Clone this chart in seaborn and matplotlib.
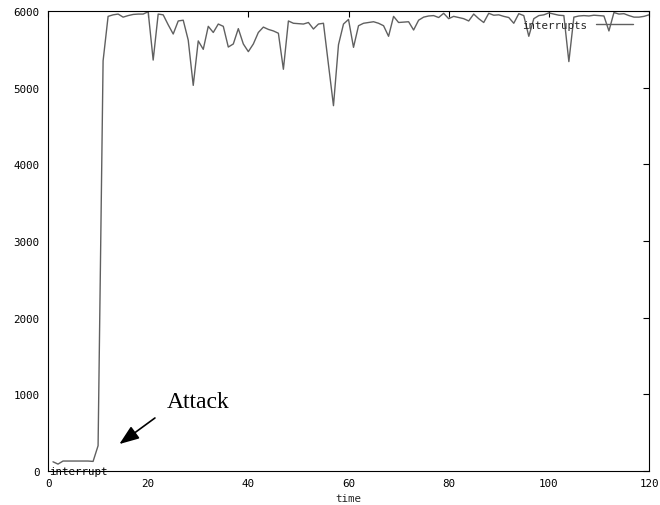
import matplotlib
matplotlib.use("Agg")

import matplotlib.pyplot as plt
import seaborn as sns
import numpy as np
import pandas as pd

# =========================================================
# DATA
# =========================================================

time = np.arange(1, 121)

interrupts = [
    120, 90, 130, 130, 130, 130, 130, 130, 125, 330,
    5350, 5930, 5950, 5960, 5920, 5940, 5955, 5960, 5960, 5990,
    5360, 5960, 5950, 5820, 5700, 5870, 5880, 5620, 5030, 5610,
    5500, 5800, 5720, 5830, 5800, 5530, 5570, 5770, 5570, 5470,
    5570, 5720, 5790, 5760, 5740, 5710, 5240, 5870, 5840, 5835,
    5830, 5850, 5765, 5830, 5840, 5300, 4765, 5560, 5830, 5890,
    5526, 5808, 5840, 5850, 5860, 5840, 5808, 5670, 5930, 5850,
    5855, 5860, 5752, 5880, 5920, 5935, 5940, 5915, 5970, 5900,
    5930, 5915, 5900, 5870, 5960, 5900, 5850, 5970, 5945, 5950,
    5930, 5915, 5840, 5965, 5940, 5670, 5900, 5940, 5950, 5975,
    5960, 5945, 5940, 5340, 5920, 5935, 5940, 5935, 5945, 5940,
    5935, 5740, 5980, 5960, 5965, 5940, 5920, 5920, 5930, 5950,
]

x_ticks = [0, 20, 40, 60, 80, 100, 120]
y_ticks = [0, 1000, 2000, 3000, 4000, 5000, 6000]

df = pd.DataFrame({"time": time, "interrupts": interrupts})

# =========================================================
# STYLE
# =========================================================

sns.set_style("white")
plt.rcParams["font.family"] = ["DejaVu Sans Mono"]

mono = 7.8

fig = plt.figure(figsize=(6.6, 5.06), dpi=100)
ax = fig.add_axes([48 / 660, 34 / 506, 601 / 660, 460 / 506])

sns.lineplot(
    data=df,
    x="time",
    y="interrupts",
    color="#606060",
    linewidth=1.0,
    label="interrupts",
    ax=ax
)

ax.set_xlim(0, 120)
ax.set_ylim(0, 6000)
ax.set_xticks(x_ticks)
ax.set_yticks(y_ticks)

ax.tick_params(
    direction="in",
    length=4,
    width=0.8,
    top=True,
    right=True,
    labelsize=mono,
    colors="black"
)
ax.tick_params(axis="y", pad=6)
ax.tick_params(axis="x", pad=5)

for s in ax.spines.values():
    s.set_color("black")
    s.set_linewidth(0.8)

ax.set_xlabel("time", fontsize=mono, labelpad=4)
ax.set_ylabel("")

ax.legend(
    loc="upper right",
    bbox_to_anchor=(0.985, 0.995),
    frameon=False,
    markerfirst=False,
    fontsize=mono,
    handlelength=3.5,
    handletextpad=0.8,
    borderaxespad=0.2
)

# label sitting on the x axis
ax.text(0.3, 0, "interrupt", fontsize=mono, ha="left", va="center",
        color="black")

# attack annotation
ax.annotate(
    "",
    xy=(13.8, 330),
    xytext=(21.8, 713),
    arrowprops=dict(
        arrowstyle="-|>,head_length=1.2,head_width=0.45",
        color="black",
        linewidth=1.2
    )
)
ax.text(23.7, 838, "Attack", fontsize=17, family=["Liberation Serif"],
        ha="left", va="baseline", color="black")

plt.savefig("out.png", dpi=100)
plt.close()
